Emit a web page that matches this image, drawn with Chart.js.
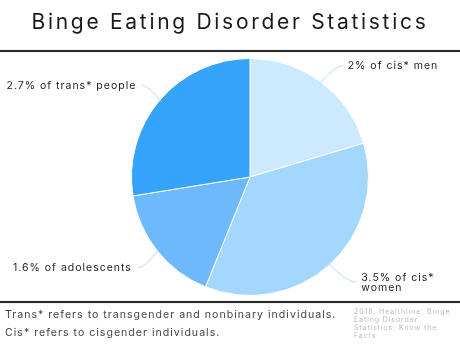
<!DOCTYPE html>
<html>
<head>
<meta charset="utf-8">
<script src="https://cdn.jsdelivr.net/npm/chart.js@4"></script>
<style>
  body { margin: 0; width: 460px; height: 346px; background: #fff; position: relative; overflow: hidden; font-family: Inter, Roboto, sans-serif; }
  #title { position: absolute; left: 0; width: 460px; top: 9px; text-align: center; font-size: 21px; letter-spacing: 2.7px; color: #1a1a1a; }
  .rule { position: absolute; left: 0; width: 460px; height: 2px; background: #2a2a2a; box-shadow: 0 0 1px #888; }
  #chartBox { position: absolute; left: 0; top: 0; width: 460px; height: 346px; }
  .note { position: absolute; left: 5px; font-size: 10.6px; letter-spacing: 1.0px; color: #444; }
  #source { position: absolute; left: 354px; top: 308px; width: 98px; font-size: 7px; line-height: 8px; letter-spacing: 0.9px; color: #bbb; }
</style>
</head>
<body>
<div id="chartBox"><canvas id="pieChart" width="460" height="346"></canvas></div>
<div id="title">Binge Eating Disorder Statistics</div>
<div class="rule" style="top:50px"></div>
<div class="rule" style="top:301px"></div>
<div class="note" style="top:308px">Trans* refers to transgender and nonbinary individuals.</div>
<div class="note" style="top:326px">Cis* refers to cisgender individuals.</div>
<div id="source">2018, Healthline; Binge Eating Disorder Statistics: Know the Facts</div>
<script>
const categories = ["2% of cis* men", "3.5% of cis* women", "1.6% of adolescents", "2.7% of trans* people"];
const values = [2, 3.5, 1.6, 2.7];
const colors = ["#cde9fd", "#a4d7fd", "#6db9fb", "#36a3fb"];

// label placement: text offset from the arc midpoint, and text alignment
const labelOffsets = [[26, -18, "left"], [31, 19, "left"], [-24, 18, "right"], [-22, -16, "right"]];

const leaderLabels = {
    id: "leaderLabels",
    afterDraw(chart) {
        const ctx = chart.ctx;
        const arcs = chart.getDatasetMeta(0).data;
        ctx.save();
        ctx.font = "10.5px Inter, Roboto, sans-serif";
        ctx.letterSpacing = "1px";
        ctx.textBaseline = "middle";
        arcs.forEach((arc, i) => {
            const mid = (arc.startAngle + arc.endAngle) / 2;
            const x0 = arc.x + Math.cos(mid) * (arc.outerRadius - 2);
            const y0 = arc.y + Math.sin(mid) * (arc.outerRadius - 2);
            const [dx, dy, align] = labelOffsets[i];
            const x1 = x0 + dx, y1 = y0 + dy;
            ctx.strokeStyle = "#b8dcf5";
            ctx.lineWidth = 1;
            ctx.beginPath();
            ctx.moveTo(x0, y0);
            ctx.quadraticCurveTo(x0 + dx * 0.6, y1, x1 - (align === "left" ? 3 : -3), y1);
            ctx.stroke();
            ctx.fillStyle = "#222";
            ctx.textAlign = align;
            const tx = align === "left" ? x1 + 2 : x1 - 3;
            if (i === 1) {
                ctx.fillText("3.5% of cis*", tx, y1 - 4);
                ctx.fillText("women", tx, y1 + 6);
            } else {
                ctx.fillText(categories[i], tx, y1);
            }
        });
        ctx.restore();
    }
};

new Chart(document.getElementById("pieChart"), {
    type: "pie",
    data: {
        labels: categories,
        datasets: [{
            data: values,
            backgroundColor: colors,
            borderColor: "#ffffff",
            borderWidth: 1,
        }],
    },
    options: {
        responsive: false,
        animation: false,
        layout: { padding: { top: 58, bottom: 50, left: 131, right: 91 } },
        plugins: {
            legend: { display: false },
            tooltip: { enabled: false },
        },
    },
    plugins: [leaderLabels],
});
</script>
</body>
</html>
